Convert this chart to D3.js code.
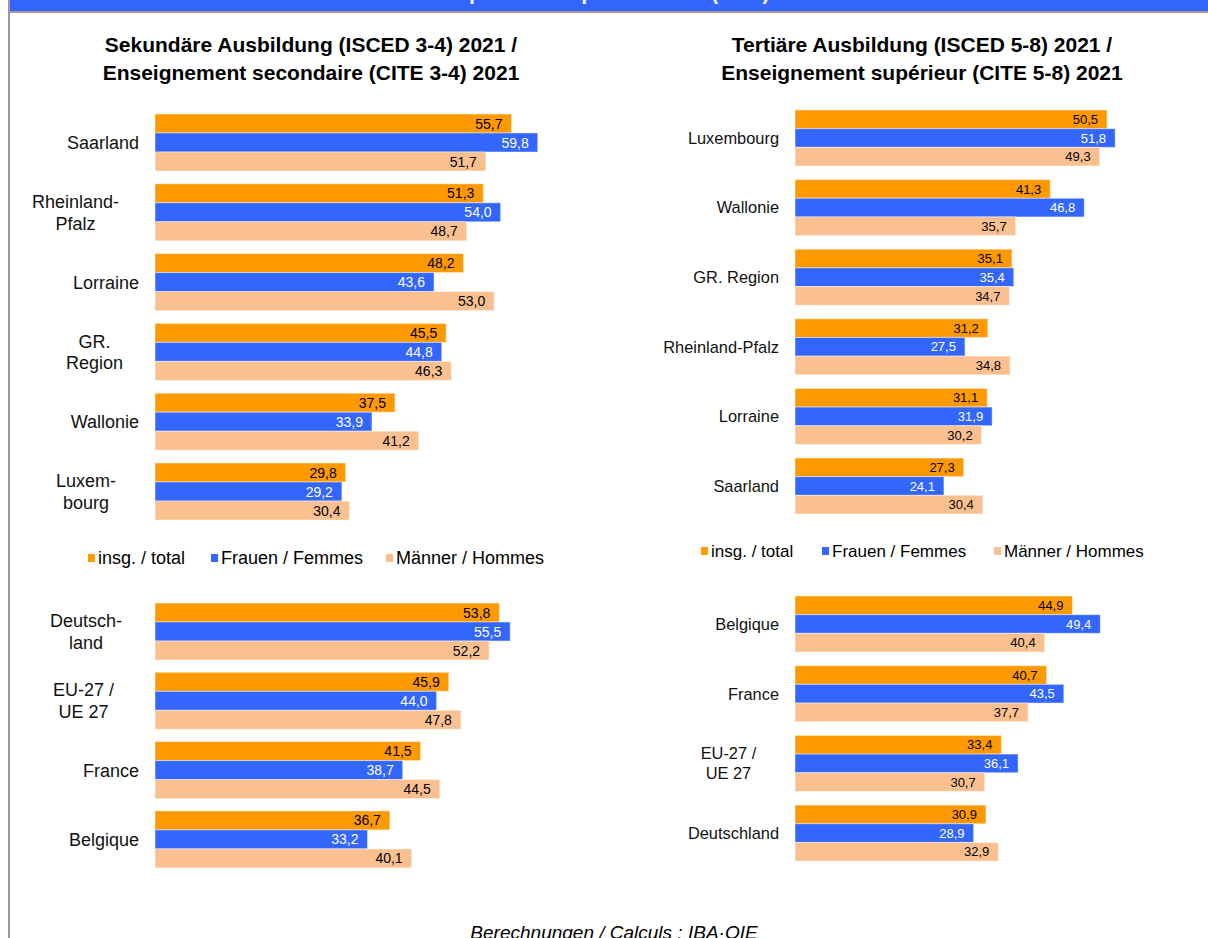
<!DOCTYPE html>
<html>
<head>
<meta charset="utf-8">
<script src="https://cdn.jsdelivr.net/npm/d3@7"></script>
<style>
  body { margin: 0; background: #fff; }
  svg { display: block; font-family: "Liberation Sans", Arial, sans-serif; }
</style>
</head>
<body>
<svg id="chart" width="1208" height="938"></svg>
<script>
// series keys + legend
var seriesKeys = ["total", "women", "men"];
var seriesNames = ["insg. / total", "Frauen / Femmes", "Männer / Hommes"];
var seriesColors = {total: "#FF9900", women: "#3366FF", men: "#FAC090"};
var labelColors = {total: "#000", women: "#fff", men: "#000"};

// Sekundäre Ausbildung - regions
var secRegions = [["Saarland"], ["Rheinland-", "Pfalz"], ["Lorraine"], ["GR.", "Region"], ["Wallonie"], ["Luxem-", "bourg"]];
var secRegTotal = [55.7, 51.3, 48.2, 45.5, 37.5, 29.8];
var secRegWomen = [59.8, 54.0, 43.6, 44.8, 33.9, 29.2];
var secRegMen = [51.7, 48.7, 53.0, 46.3, 41.2, 30.4];

// Sekundäre Ausbildung - countries
var secCountries = [["Deutsch-", "land"], ["EU-27 /", "UE 27"], ["France"], ["Belgique"]];
var secCtrTotal = [53.8, 45.9, 41.5, 36.7];
var secCtrWomen = [55.5, 44.0, 38.7, 33.2];
var secCtrMen = [52.2, 47.8, 44.5, 40.1];

// Tertiäre Ausbildung - regions
var terRegions = [["Luxembourg"], ["Wallonie"], ["GR. Region"], ["Rheinland-Pfalz"], ["Lorraine"], ["Saarland"]];
var terRegTotal = [50.5, 41.3, 35.1, 31.2, 31.1, 27.3];
var terRegWomen = [51.8, 46.8, 35.4, 27.5, 31.9, 24.1];
var terRegMen = [49.3, 35.7, 34.7, 34.8, 30.2, 30.4];

// Tertiäre Ausbildung - countries
var terCountries = [["Belgique"], ["France"], ["EU-27 /", "UE 27"], ["Deutschland"]];
var terCtrTotal = [44.9, 40.7, 33.4, 30.9];
var terCtrWomen = [49.4, 43.5, 36.1, 28.9];
var terCtrMen = [40.4, 37.7, 30.7, 32.9];

var svg = d3.select("#chart");
var fmt = function(v) { return d3.format(".1f")(v).replace(".", ","); };

// frame + header band (title sits above the visible area, only descenders show)
svg.append("rect")
    .attr("x", 10).attr("y", 0)
    .attr("width", 1198).attr("height", 11)
    .attr("fill", "#3366FF");
svg.append("text")
    .attr("x", 231).attr("y", -0.5)
    .attr("fill", "#fff")
    .style("font-weight", "bold")
    .style("font-size", "20px")
    .text("Höchster Abschluss / Le plus haut diplôme atteint (2021)");
svg.append("rect")
    .attr("x", 10).attr("y", 11)
    .attr("width", 1198).attr("height", 2)
    .attr("fill", "#999");
svg.append("rect")
    .attr("x", 8).attr("y", 0)
    .attr("width", 2).attr("height", 938)
    .attr("fill", "#999");

function makeRows(cats, total, women, men) {
    return cats.map(function(c, i) {
        return {id: c.join(" "), lines: c, total: total[i], women: women[i], men: men[i]};
    });
}

function drawPanel(opt) {
    var rows = makeRows(opt.cats, opt.total, opt.women, opt.men);
    var p = 1 - opt.band / opt.step;
    var y = d3.scaleBand()
        .domain(rows.map(function(d) { return d.id; }))
        .range([opt.y0, opt.y0 + rows.length * opt.step - opt.step * p])
        .paddingInner(p)
        .paddingOuter(0);
    var y1 = d3.scaleBand()
        .domain(seriesKeys)
        .range([0, y.bandwidth()]);
    var x = opt.x;

    var g = svg.append("g");
    var grp = g.selectAll("g.grp")
      .data(rows)
      .enter()
      .append("g")
        .attr("class", "grp")
        .attr("transform", function(d) { return "translate(0," + y(d.id) + ")"; });

    grp.selectAll("rect")
      .data(function(d) { return seriesKeys.map(function(k) { return {k: k, v: d[k]}; }); })
      .enter()
      .append("rect")
        .attr("x", x(0))
        .attr("y", function(d) { return y1(d.k); })
        .attr("width", function(d) { return x(d.v) - x(0); })
        .attr("height", y1.bandwidth())
        .attr("fill", function(d) { return seriesColors[d.k]; })
        .attr("stroke", "rgba(255,255,255,0.45)")
        .attr("stroke-width", 1);

    grp.selectAll("text.val")
      .data(function(d) { return seriesKeys.map(function(k) { return {k: k, v: d[k]}; }); })
      .enter()
      .append("text")
        .attr("class", "val")
        .attr("x", function(d) { return x(d.v) - 9; })
        .attr("y", function(d) { return y1(d.k) + y1.bandwidth() / 2; })
        .attr("dy", "0.36em")
        .attr("text-anchor", "end")
        .attr("fill", function(d) { return labelColors[d.k]; })
        .style("font-size", opt.valSize + "px")
        .text(function(d) { return fmt(d.v); });

    // category labels, lines centred on each other, block right aligned
    grp.each(function(d) {
        var lab = d3.select(this).append("text")
            .style("font-size", opt.catSize + "px")
            .attr("fill", "#111");
        var n = d.lines.length;
        d.lines.forEach(function(line, i) {
            lab.append("tspan")
                .attr("y", y.bandwidth() / 2 + (i - (n - 1) / 2) * opt.catSize * 1.2)
                .attr("dy", "0.36em")
                .text(line);
        });
        var w = lab.node().getBBox().width;
        lab.attr("text-anchor", "middle")
          .selectAll("tspan")
            .attr("x", opt.catRight - w / 2);
    });
}

function drawTitle(cx, lines) {
    svg.append("text")
        .attr("text-anchor", "middle")
        .style("font-weight", "bold")
        .style("font-size", "21px")
      .selectAll("tspan")
      .data(lines)
      .enter()
      .append("tspan")
        .attr("x", cx)
        .attr("y", function(d, i) { return 52 + i * 28; })
        .text(function(d) { return d; });
}

function drawLegend(yc, positions, size) {
    var lg = svg.append("g");
    var item = lg.selectAll("g")
      .data(seriesKeys)
      .enter()
      .append("g")
        .attr("transform", function(d, i) { return "translate(" + positions[i] + "," + yc + ")"; });
    item.append("rect")
        .attr("x", 0).attr("y", -4)
        .attr("width", 7).attr("height", 8)
        .attr("fill", function(d) { return seriesColors[d]; });
    item.append("text")
        .attr("x", 10)
        .attr("dy", "0.36em")
        .style("font-size", size + "px")
        .text(function(d, i) { return seriesNames[i]; });
}

var xLeft = d3.scaleLinear().domain([0, 60]).range([155, 155 + 60 * 6.4]);
var xRight = d3.scaleLinear().domain([0, 60]).range([795, 795 + 60 * 6.18]);

drawTitle(311, ["Sekundäre Ausbildung (ISCED 3-4) 2021 /", "Enseignement secondaire (CITE 3-4) 2021"]);
drawTitle(922, ["Tertiäre Ausbildung (ISCED 5-8) 2021 /", "Enseignement supérieur (CITE 5-8) 2021"]);

drawPanel({cats: secRegions, total: secRegTotal, women: secRegWomen, men: secRegMen,
    x: xLeft, y0: 114, step: 69.8, band: 57, catRight: 139, catSize: 18, valSize: 14});
drawPanel({cats: secCountries, total: secCtrTotal, women: secCtrWomen, men: secCtrMen,
    x: xLeft, y0: 603, step: 69.3, band: 57, catRight: 139, catSize: 18, valSize: 14});
drawPanel({cats: terRegions, total: terRegTotal, women: terRegWomen, men: terRegMen,
    x: xRight, y0: 110, step: 69.6, band: 56, catRight: 779, catSize: 16.4, valSize: 13});
drawPanel({cats: terCountries, total: terCtrTotal, women: terCtrWomen, men: terCtrMen,
    x: xRight, y0: 596, step: 69.7, band: 56, catRight: 779, catSize: 16.4, valSize: 13});

drawLegend(558, [88, 211, 386], 18);
drawLegend(551, [701, 822, 994], 17);

svg.append("text")
    .attr("x", 614).attr("y", 939)
    .attr("text-anchor", "middle")
    .style("font-style", "italic")
    .style("font-size", "19px")
    .text("Berechnungen / Calculs : IBA·OIE");
</script>
</body>
</html>
